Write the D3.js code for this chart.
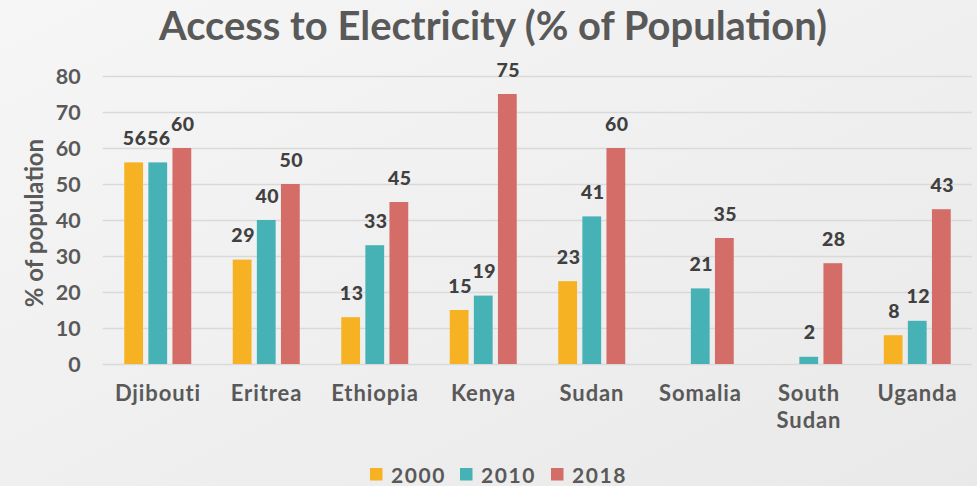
<!DOCTYPE html>
<html>
<head>
<meta charset="utf-8">
<script src="https://cdn.jsdelivr.net/npm/d3@7"></script>
<style>
  html, body { margin: 0; padding: 0; background: #f0f0f0; }
  svg { display: block; font-family: Lato, "Open Sans", "DejaVu Sans", sans-serif; }
</style>
</head>
<body>
<svg id="chart" width="977" height="486"></svg>
<script>
// Access to electricity, share of population with access (%)
const countries = ["Djibouti", "Eritrea", "Ethiopia", "Kenya", "Sudan", "Somalia", "South Sudan", "Uganda"];
const years = ["2000", "2010", "2018"];
const values2000 = [56, 29, 13, 15, 23, null, null, 8];
const values2010 = [56, 40, 33, 19, 41, 21, 2, 12];
const values2018 = [60, 50, 45, 75, 60, 35, 28, 43];
const yTicks = [0, 10, 20, 30, 40, 50, 60, 70, 80];
const colors = ["#f6b223", "#47b2b5", "#d46c68"];

const seriesValues = [values2000, values2010, values2018];

const svg = d3.select("#chart");
const W = 977, H = 486;

// background wash
const defs = svg.append("defs");
const grad = defs.append("linearGradient").attr("id", "bg")
  .attr("x1", "0").attr("y1", "0").attr("x2", "1").attr("y2", "1");
grad.append("stop").attr("offset", "0%").attr("stop-color", "#f6f6f6");
grad.append("stop").attr("offset", "100%").attr("stop-color", "#e9e9e9");
svg.append("rect").attr("width", W).attr("height", H).attr("fill", "url(#bg)");

const plot = { left: 103.75, right: 971.75, top: 76, bottom: 364 };

const x0 = d3.scaleBand().domain(countries).range([plot.left, plot.right]).padding(0);
const x1 = d3.scaleBand().domain(years)
  .range([20.5, x0.bandwidth() - 21]).paddingInner(0.22).paddingOuter(0);
const y = d3.scaleLinear().domain([0, 80]).range([plot.bottom, plot.top]);

// gridlines and value ticks
const yAxis = d3.axisLeft(y).tickValues(yTicks).tickSize(-(plot.right - plot.left + 1)).tickPadding(22);
const gy = svg.append("g").attr("transform", `translate(${plot.left - 1},0)`).call(yAxis);
gy.select(".domain").remove();
gy.selectAll(".tick line").attr("stroke", "#d9d9d9").attr("stroke-width", 1.6);
gy.selectAll(".tick text")
  .attr("fill", "#595959").attr("font-size", 21.5).attr("font-weight", 700)
  .attr("font-family", "Lato, sans-serif").attr("dy", "0.36em");

// bars
const groups = svg.append("g").selectAll("g")
  .data(countries).join("g")
  .attr("transform", d => `translate(${x0(d)},0)`);

const rows = (c, i) => years.map((yr, s) => ({ year: yr, value: seriesValues[s][i], s }))
  .filter(d => d.value != null);

groups.selectAll("rect")
  .data((c, i) => rows(c, i))
  .join("rect")
  .attr("x", d => x1(d.year))
  .attr("width", x1.bandwidth())
  .attr("y", d => y(d.value))
  .attr("height", d => y(0) - y(d.value))
  .attr("fill", d => colors[d.s]);

// value labels
groups.selectAll("text.val")
  .data((c, i) => rows(c, i))
  .join("text").attr("class", "val")
  .attr("x", d => x1(d.year) + x1.bandwidth() / 2 + 1)
  .attr("y", d => y(d.value) - 17.5)
  .attr("text-anchor", "middle")
  .attr("fill", "#404040").attr("font-size", 19.5).attr("font-weight", 900)
  .attr("letter-spacing", 0.5)
  .text(d => d.value);

// category labels
const xLabels = svg.append("g").selectAll("text")
  .data(countries).join("text")
  .attr("x", d => x0(d) + x0.bandwidth() / 2)
  .attr("y", 401)
  .attr("text-anchor", "middle")
  .attr("fill", "#595959").attr("font-size", 22).attr("font-weight", 700)
  .attr("letter-spacing", 0.9);
xLabels.each(function (d) {
  const words = d.split(" ");
  const t = d3.select(this);
  words.forEach((w, k) => {
    t.append("tspan").attr("x", x0(d) + x0.bandwidth() / 2).attr("dy", k === 0 ? 0 : 27).text(w);
  });
});

// y axis title
svg.append("text")
  .attr("transform", "translate(43,223) rotate(-90)")
  .attr("text-anchor", "middle")
  .attr("fill", "#595959").attr("font-size", 24).attr("font-weight", 700)
  .text("% of population");

// chart title
svg.append("text")
  .attr("x", 493).attr("y", 40)
  .attr("text-anchor", "middle")
  .attr("fill", "#595959").attr("font-size", 41).attr("font-weight", 700)
  .attr("textLength", 668).attr("lengthAdjust", "spacingAndGlyphs")
  .text("Access to Electricity (% of Population)");

// legend
const legend = svg.append("g");
const legendX = [370, 460, 551];
const items = legend.selectAll("g").data(years).join("g")
  .attr("transform", (d, i) => `translate(${legendX[i]},468)`);
items.append("rect").attr("width", 12.5).attr("height", 12.5)
  .attr("fill", (d, i) => colors[i]);
items.append("text").attr("x", 21).attr("y", 14.5)
  .attr("fill", "#595959").attr("font-size", 21).attr("font-weight", 700)
  .attr("letter-spacing", 1.6)
  .text(d => d);
</script>
</body>
</html>
